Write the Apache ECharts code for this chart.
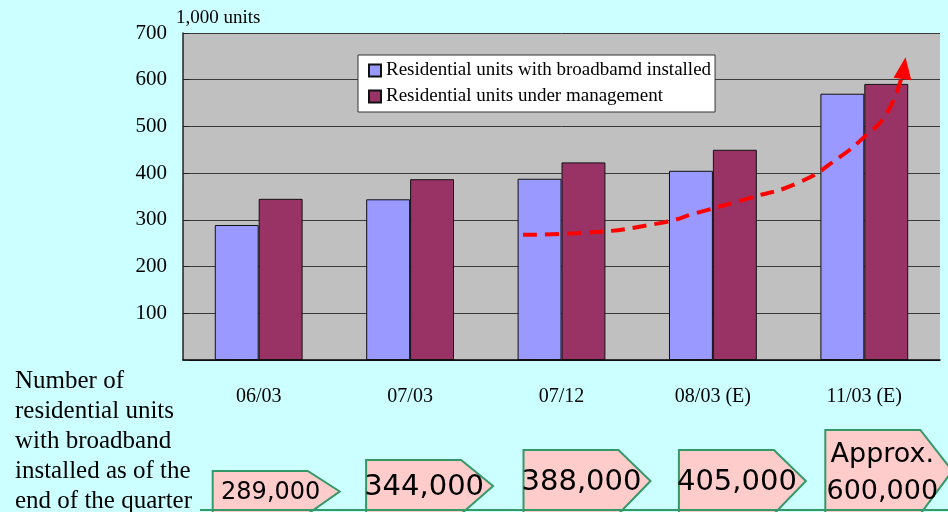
<!DOCTYPE html>
<html lang="en">
  <head>
    <meta charset="UTF-8" />
    <title>Residential units with broadband</title>
    <style>
      html, body { margin: 0; padding: 0; background: #ccffff; }
      #main { width: 948px; height: 512px; }
    </style>
  </head>
  <body>
    <div id="main"></div>
    <script src="https://cdn.jsdelivr.net/npm/echarts@6/dist/echarts.min.js"></script>
    <script>
      // data (1,000 units)
      var quarters = ["06/03", "07/03", "07/12", "08/03 (E)", "11/03 (E)"];
      var broadband = [289, 344, 388, 405, 570];
      var managed = [345, 387, 423, 450, 591];
      var yTicks = [0, 100, 200, 300, 400, 500, 600, 700];
      var boxLabels = ["289,000", "344,000", "388,000", "405,000", "Approx.\n600,000"];
      // red trend arrow, x in category index units
      var trendX = [1.746, 2.142, 2.651, 2.895, 3.245, 3.575, 3.84, 3.991, 4.15, 4.262];
      var trendY = [268, 272, 293, 315, 347, 381, 435, 475, 529, 625];

      var SERIF = "Liberation Serif";
      // layout of the pink callouts under each category
      var BOX_TOP = [471, 460, 450, 450, 430];
      var BOX_OFF = [-46, -44, -38, -34, -39];
      var BOX_FONT = [24, 29, 29, 29, 27];

      var chart = echarts.init(document.getElementById("main"));

      var trendData = trendX.map(function (x, i) {
        var p = { value: [x, trendY[i]] };
        if (i === trendX.length - 1) {
          p.symbol = "triangle";
          p.symbolSize = [18, 22];
          p.symbolRotate = -8;
        }
        return p;
      });

      chart.setOption({
        backgroundColor: "#ccffff",
        animation: false,
        textStyle: { fontFamily: SERIF },
        grid: { left: 183, right: 8, top: 33, bottom: 152, show: true, backgroundColor: "#c0c0c0", borderWidth: 0 },
        legend: {
          orient: "vertical",
          left: 358,
          top: 55,
          width: 355,
          backgroundColor: "#ffffff",
          borderColor: "#333",
          borderWidth: 1,
          padding: [6, 4, 6, 10],
          itemGap: 7,
          itemWidth: 12,
          itemHeight: 12,
          icon: "rect",
          textStyle: { fontFamily: SERIF, fontSize: 19, color: "#000" },
          data: ["Residential units with broadbamd installed", "Residential units under management"]
        },
        xAxis: [
          {
            type: "category",
            data: quarters,
            axisLine: { lineStyle: { color: "#000", width: 1.5 } },
            axisTick: { inside: true, length: 6, lineStyle: { color: "#333" } },
            axisLabel: { fontFamily: SERIF, fontSize: 20, color: "#000", margin: 27 }
          },
          { type: "value", min: -0.5, max: 4.5, show: false }
        ],
        yAxis: {
          type: "value",
          min: yTicks[0],
          max: yTicks[yTicks.length - 1],
          interval: 100,
          name: "1,000 units",
          nameLocation: "end",
          nameGap: 5,
          nameTextStyle: { fontFamily: SERIF, fontSize: 19, color: "#000", align: "left", padding: [0, 0, 0, -7] },
          axisLine: { show: true, onZero: false, lineStyle: { color: "#222", width: 1.5 } },
          axisTick: { show: true, inside: true, length: 6, lineStyle: { color: "#222" } },
          axisLabel: {
            fontFamily: SERIF, fontSize: 21, color: "#000", margin: 16,
            formatter: function (v) { return v === 0 ? "" : String(v); }
          },
          splitLine: { lineStyle: { color: "#3a3a3a", width: 1 } }
        },
        series: [
          {
            name: "Residential units with broadbamd installed",
            type: "bar",
            data: broadband,
            barGap: "0%",
            barCategoryGap: "42%",
            itemStyle: { color: "#9999ff", borderColor: "#111", borderWidth: 1 }
          },
          {
            name: "Residential units under management",
            type: "bar",
            data: managed,
            itemStyle: { color: "#993366", borderColor: "#111", borderWidth: 1 }
          },
          {
            type: "line",
            xAxisIndex: 1,
            data: trendData,
            smooth: true,
            symbol: "none",
            z: 5,
            itemStyle: { color: "#ff0000" },
            lineStyle: { color: "#ff0000", width: 4, type: [14, 8] }
          },
          {
            type: "custom",
            clip: false,
            silent: true,
            data: boxLabels.map(function (s, i) { return [i, 0]; }),
            renderItem: function (params, api) {
              var i = api.value(0);
              var c = api.coord([i, 0]);
              var l = c[0] + BOX_OFF[i];
              var top = BOX_TOP[i];
              var bot = 514;
              var mid = (top + 512) / 2;
              var lines = boxLabels[i].split("\n");
              var font = BOX_FONT[i] + "px 'DejaVu Sans'";
              var children = [
                {
                  type: "polygon",
                  shape: { points: [[l, top], [l + 95, top], [l + 127, mid], [l + 95, bot], [l, bot]] },
                  style: { fill: "#ffcccc", stroke: "#339966", lineWidth: 2 }
                }
              ];
              if (lines.length === 1) {
                children.push({
                  type: "text",
                  style: { text: lines[0], x: l + 58, y: mid + 1, align: "center", verticalAlign: "middle", font: font, fill: "#000" }
                });
              } else {
                children.push({
                  type: "text",
                  style: { text: lines[0], x: l + 57, y: 455, align: "center", verticalAlign: "middle", font: font, fill: "#000" }
                });
                children.push({
                  type: "text",
                  style: { text: lines[1], x: l + 57, y: 492, align: "center", verticalAlign: "middle", font: font, fill: "#000" }
                });
              }
              return { type: "group", children: children };
            }
          }
        ],
        graphic: [
          {
            type: "text",
            left: 15,
            top: 366,
            style: {
              text: "Number of\nresidential units\nwith broadband\ninstalled as of the\nend of the quarter",
              font: "25px 'Liberation Serif'",
              lineHeight: 30,
              fill: "#000"
            }
          },
          {
            type: "line",
            shape: { x1: 200, y1: 510, x2: 948, y2: 510 },
            style: { stroke: "#339966", lineWidth: 2 },
            z: 10
          }
        ]
      });
    </script>
  </body>
</html>
